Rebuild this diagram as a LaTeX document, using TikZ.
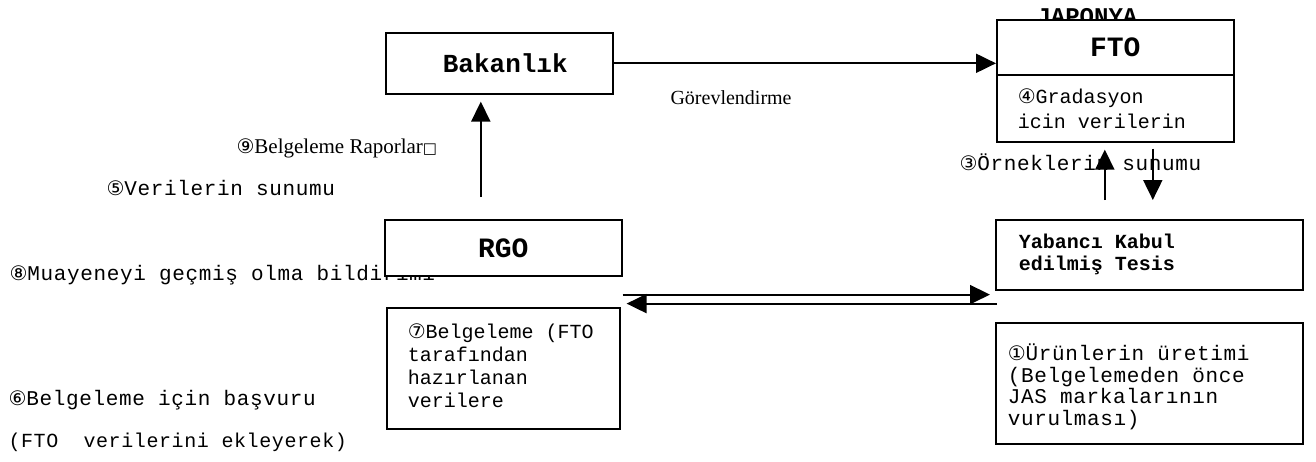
\documentclass[tikz,border=0pt]{standalone}
\usepackage{fontspec}
\setmainfont{Liberation Serif}
\newfontfamily\monofont{Liberation Mono}[WordSpace={1,0,0}]
\newfontfamily\widefont{Liberation Mono}[LetterSpace=3,WordSpace={1,0,0}]
\newfontfamily\circfont{DejaVu Sans}
\usetikzlibrary{arrows.meta}
\tikzset{>={Triangle[length=20pt,width=19pt]}}
\newcommand{\cnum}[1]{{\circfont\fontsize{20}{20}\selectfont #1}}
\newcommand{\boxtext}[2]{\makebox[#1][l]{\begin{tabular}{@{}l@{}}#2\end{tabular}}}

\begin{document}
\begin{tikzpicture}[x=1pt,y=-1pt,
    box/.style={draw,line width=1.6pt,fill=white,inner sep=0pt,anchor=north west},
    txt/.style={anchor=base west,font=\widefont\fontsize{21}{21}\selectfont},
    flow/.style={->,line width=2pt}]
  \useasboundingbox (0,0) rectangle (1316,461);
  % free texts
  \node[anchor=base west,font=\monofont\bfseries\fontsize{24}{24}\selectfont] (japonya) at (1033,24) {JAPONYA};
  \node[anchor=base west,font=\fontsize{20}{20}\selectfont] (gorev) at (667,104) {Görevlendirme};
  \node[anchor=base west,font=\fontsize{21}{21}\selectfont] (rapor) at (233,153) {\cnum{⑨}Belgeleme Raporlar{\circfont\fontsize{15}{15}\selectfont □}};
  \node[txt] (veri) at (103,195) {\cnum{⑤}Verilerin sunumu};
  \node[txt] (muayene) at (6,280) {\cnum{⑧}Muayeneyi geçmiş olma bildirimi};
  \node[txt] (basvuru) at (5,405) {\cnum{⑥}Belgeleme için başvuru};
  \node[txt,font=\widefont\fontsize{20}{20}\selectfont] (ekle) at (5,447) {(FTO\ \ verilerini ekleyerek)};
  \node[txt] (ornek) at (956,170) {\cnum{③}Örneklerin sunumu};
  % boxes
  \node[box,minimum width=227pt,minimum height=61pt,
    font=\monofont\bfseries\fontsize{26}{26}\selectfont] (bakanlik) at (385,32) {\hspace*{12pt}Bakanlık};
  \node[box,minimum width=237pt,minimum height=55pt,
    font=\monofont\bfseries\fontsize{28}{28}\selectfont] (fto) at (996,19) {FTO};
  \node[box,minimum width=237pt,minimum height=67pt,inner xsep=21pt,
    font=\monofont\fontsize{20}{25}\selectfont] (ftodata) at (996,74) {\boxtext{195pt}{\rule{0pt}{22pt}\cnum{④}Gradasyon\\icin verilerin}};
  \node[box,minimum width=237pt,minimum height=56pt,
    font=\monofont\bfseries\fontsize{28}{28}\selectfont] (rgo) at (384,219) {RGO};
  \node[box,minimum width=307pt,minimum height=70pt,inner xsep=23pt,
    font=\monofont\bfseries\fontsize{20}{22}\selectfont] (yabanci) at (995,219) {\boxtext{261pt}{Yabancı Kabul\\edilmiş Tesis}};
  \node[box,minimum width=233pt,minimum height=121pt,inner xsep=21pt,
    font=\monofont\fontsize{20}{23}\selectfont] (belge) at (386,307) {\boxtext{191pt}{\cnum{⑦}Belgeleme (FTO\\tarafından\\hazırlanan\\verilere}};
  \node[box,minimum width=307pt,minimum height=121pt,inner xsep=12pt,
    font=\widefont\fontsize{21}{21}\selectfont] (urun) at (995,322) {\boxtext{283pt}{\rule{0pt}{26pt}\cnum{①}Ürünlerin üretimi\\(Belgelemeden önce\\JAS markalarının\\vurulması)}};
  % arrows
  \draw[flow] (bakanlik.east) -- (bakanlik.east -| fto.west);
  \draw[flow] ([xshift=-22.5pt,yshift=22pt]rgo.north) -- ([xshift=-18.5pt,yshift=-7pt]bakanlik.south);
  \draw[flow] ([xshift=-44.5pt,yshift=19pt]yabanci.north) -- ([xshift=-10.5pt,yshift=-7pt]ftodata.south);
  \draw[flow] ([xshift=37.5pt,yshift=-6pt]ftodata.south) -- ([xshift=3.5pt,yshift=19pt]yabanci.north);
  \draw[flow] ([yshift=-18pt]rgo.south east) -- ([xshift=-5pt,yshift=-4pt]yabanci.south west);
  \draw[flow] ([xshift=2pt,yshift=-13pt]yabanci.south west) -- ([xshift=4pt,yshift=-27pt]rgo.south east);
\end{tikzpicture}
\end{document}
